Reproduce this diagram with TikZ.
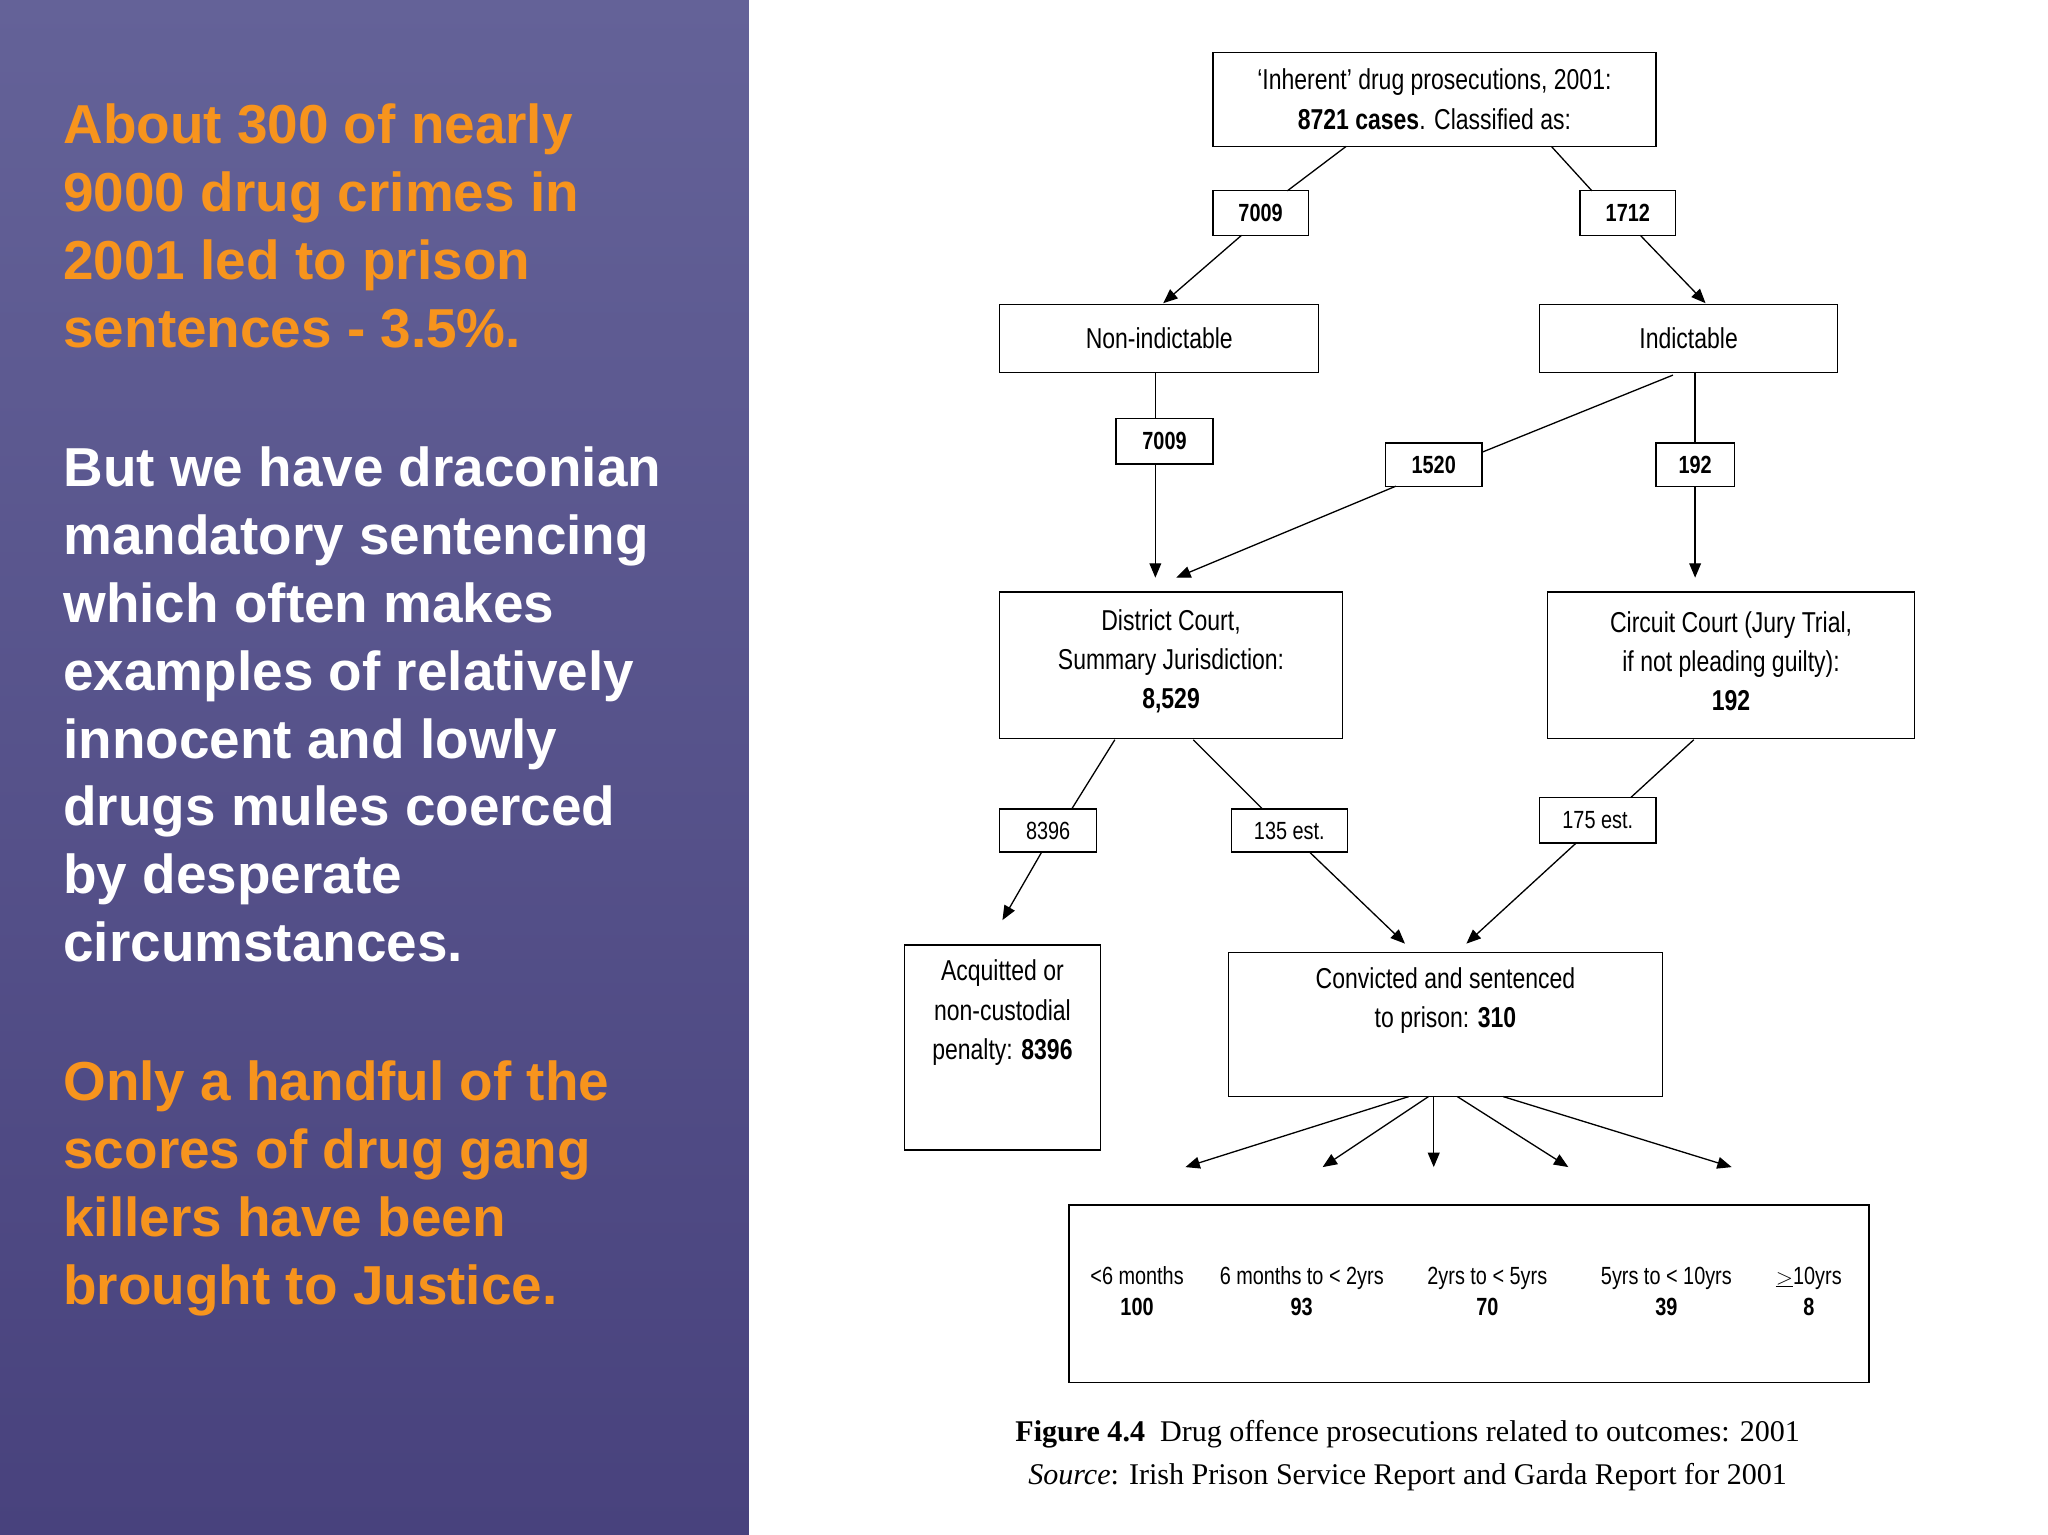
\documentclass[tikz,border=0pt]{standalone}
\usepackage{fontspec}
\setmainfont{Liberation Sans}
\newfontfamily\nar[FakeStretch=0.8]{Liberation Sans}
\newfontfamily\capf{Liberation Serif}
\usetikzlibrary{arrows.meta}
\definecolor{orng}{HTML}{F7941D}
\begin{document}
\begin{tikzpicture}[x=1pt,y=-1pt,
  bx/.style={draw,line width=1pt,inner sep=0pt},
  lbl/.style={draw,line width=1pt,fill=white,font=\nar\fontsize{19}{22}\selectfont,inner sep=0pt},
  ln/.style={line width=1pt},
  ar/.style={line width=1pt,-{Triangle[length=11pt,width=9pt]}},
  tx/.style={font=\nar\fontsize{22}{30}\selectfont,align=center},
  lt/.style={anchor=base west,font=\bfseries\fontsize{42}{52}\selectfont}]
\useasboundingbox (0,0) rectangle (1567,1174);
\fill[white] (0,0) rectangle (1567,1174);
\shade[top color={rgb,255:red,100;green,98;blue,152},bottom color={rgb,255:red,72;green,66;blue,125}] (0,0) rectangle (573,1174);
% left text
\foreach \t/\y in {About 300 of nearly/110,9000 drug crimes in/162,2001 led to prison/214,sentences - 3.5\%./266}
  \node[lt,text=orng] at (45,\y) {\t};
\foreach \t/\y in {But we have draconian/372,mandatory sentencing/424,which often makes/476,examples of relatively/528,innocent and lowly/580,drugs mules coerced/632,by desperate/684,circumstances./736}
  \node[lt,text=white] at (45,\y) {\t};
\foreach \t/\y in {Only a handful of the/842,scores of drug gang/894,killers have been/946,brought to Justice./998}
  \node[lt,text=orng] at (45,\y) {\t};
% boxes
\draw[bx] (928,40) rectangle (1267,112);
\node[tx] (top) at (1097.5,76) {‘Inherent’ drug prosecutions, 2001:\\\textbf{8721 cases}. Classified as:};
\coordinate (topbl) at (1030,112); \coordinate (topbr) at (1187,112);
\node[lbl,minimum width=73pt,minimum height=34pt] (l7009a) at (964.5,163) {\textbf{7009}};
\node[lbl,minimum width=73pt,minimum height=34pt] (l1712) at (1245.5,163) {\textbf{1712}};
\node[bx,tx,minimum width=244pt,minimum height=52pt] (non) at (887,259) {Non-indictable};
\node[bx,tx,minimum width=228pt,minimum height=52pt] (ind) at (1292,259) {Indictable};
\node[lbl,minimum width=74pt,minimum height=35pt] (l7009b) at (891,337.5) {\textbf{7009}};
\node[lbl,minimum width=74pt,minimum height=33pt] (l1520) at (1097,355.5) {\textbf{1520}};
\node[lbl,minimum width=60pt,minimum height=33pt] (l192) at (1297,355.5) {\textbf{192}};
\node[bx,minimum width=262pt,minimum height=112pt] (dist) at (896,509) {};
\node[tx] at (896,506) {District Court,\\Summary Jurisdiction:\\\textbf{8,529}};
\node[bx,minimum width=281pt,minimum height=112pt] (circ) at (1324.5,509) {};
\node[tx] at (1324.5,506) {Circuit Court (Jury Trial,\\if not pleading guilty):\\\textbf{192}};
\node[lbl,minimum width=74pt,minimum height=33pt] (l8396) at (802,635.5) {8396};
\node[lbl,minimum width=89pt,minimum height=33pt] (l135) at (986.5,635.5) {135 est.};
\node[lbl,minimum width=89pt,minimum height=35pt] (l175) at (1222.5,627.5) {175 est.};
\node[bx,minimum width=150pt,minimum height=157pt] (acq) at (767,801.5) {};
\node[tx,anchor=north] at (767,731) {Acquitted or\\non-custodial\\penalty: \textbf{8396}};
\node[bx,minimum width=332pt,minimum height=110pt] (conv) at (1106,784) {};
\node[tx,anchor=north] at (1106,737) {Convicted and sentenced\\to prison: \textbf{310}};
\node[bx,minimum width=612pt,minimum height=136pt] (bot) at (1124,990) {};
\foreach \a/\b/\x in {{<6 months}/100/870,{6 months to < 2yrs}/93/996,{2yrs to < 5yrs}/70/1138,{5yrs to < 10yrs}/39/1275,{$\underline{>}$10yrs}/8/1384}
  \node[tx,font=\nar\fontsize{19}{24}\selectfont] at (\x,988) {\a\\\textbf{\b}};
% connectors
\coordinate (a1) at (890,232); \coordinate (a2) at (1305,232);
\draw[ln] (topbl) -- (985,146); \draw[ar] (950,180) -- (a1);
\draw[ln] (topbr) -- (1218,146); \draw[ar] (1255,180) -- (a2);
\draw[ln] (884,285) -- (884,320);
\coordinate (a3) at (884,442); \coordinate (a4) at (900,442); \coordinate (a5) at (1297,442);
\draw[ar] (884,355) -- (a3);
\draw[ln] (1280,287) -- (1134,346); \draw[ar] (1068,372) -- (a4);
\draw[ln] (1297,285) -- (l192.north); \draw[ar] (l192.south) -- (a5);
\coordinate (a6) at (767,704); \coordinate (a7) at (1075,722); \coordinate (a8) at (1122,722);
\draw[ln] (853,566) -- (820,619); \draw[ar] (797,652) -- (a6);
\draw[ln] (913,566) -- (966,619); \draw[ar] (1002,652) -- (a7);
\draw[ln] (1296,566) -- (1248,610); \draw[ar] (1206,645) -- (a8);
\coordinate (b1) at (907,893); \coordinate (b2) at (1012,893); \coordinate (b3) at (1097,893);
\coordinate (b4) at (1200,893); \coordinate (b5) at (1325,893);
\draw[ar] (1078,839) -- (b1); \draw[ar] (1093,839) -- (b2); \draw[ar] (1097,839) -- (b3);
\draw[ar] (1115,839) -- (b4); \draw[ar] (1150,839) -- (b5);
\node[font=\capf\fontsize{23}{33}\selectfont,align=center] (cap) at (1077,1114) {\textbf{Figure 4.4}\ \ Drug offence prosecutions related to outcomes: 2001\\\textit{Source}: Irish Prison Service Report and Garda Report for 2001};
\end{tikzpicture}
\end{document}
